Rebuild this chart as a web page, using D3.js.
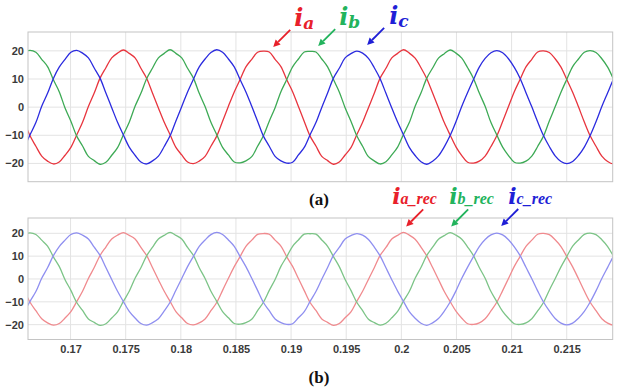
<!DOCTYPE html>
<html>
<head>
<meta charset="utf-8">
<script src="https://cdn.jsdelivr.net/npm/d3@7"></script>
<style>
  body { margin: 0; background: #fff; }
  .tick text { font-family: "Liberation Sans", Arial, sans-serif; font-weight: bold; font-size: 11px; fill: #3a3a3a; }
</style>
</head>
<body>
<div id="chart"></div>
<script>
// sample instants: one sample every 1/24 of a period (period ~0.0127 s)
const sampleStart = 0.165796;
const sampleStep = 0.00052917;

// phase currents; the reconstructed ones in (b) follow them
const ia = [-5.0,
  -10.2, -13.9, -17.4, -19.2, -20.2, -19.5, -17.1, -14.3, -9.9, -5.4, 0.2, 5.0, 10.3, 14.0, 17.5, 19.2,
  20.3, 19.1, 17.5, 13.8, 10.2, 4.9, -0.3, -5.4, -9.8, -14.3, -17.0, -19.5, -20.1, -19.2, -17.5, -13.9, -10.3, -5.0, 0.3, 5.4, 9.8, 14.3, 17.0, 19.5,
  19.9, 19.6, 17.0, 14.4, 9.7, 5.5, 0.2, -5.1, -10.3, -13.8, -17.5, -19.0, -20.3, -19.5, -17.0, -14.4, -9.8, -5.4, -0.2, 4.9, 10.3, 13.8, 17.5, 19.1,
  20.4, 19.2, 17.4, 14.0, 10.1, 5.0, -0.2, -5.5, -9.9, -14.1, -17.2, -19.6, -19.9, -19.2, -17.4, -14.0, -10.2, -5.1, 0.2, 5.5, 9.9, 14.3, 17.0, 19.6,
  20.0, 19.4, 17.2, 14.2, 9.8, 5.3, 0.1, -5.3, -10.2, -13.9, -17.4, -19.3, -20.2, -19.4];

const ib = [19.6,
  20.2, 19.5, 17.0, 14.4, 9.7, 5.5, -0.3, -5.0, -10.3, -13.8, -17.5, -19.0, -20.3, -19.6, -17.1, -14.4, -9.8, -5.4, 0.3, 4.9, 10.2, 13.9, 17.5, 19.1,
  20.4, 19.1, 17.5, 13.8, 10.3, 4.9, 0.2, -5.4, -9.8, -14.3, -17.0, -19.5, -19.8, -19.1, -17.6, -13.9, -10.2, -5.0, -0.2, 5.5, 9.8, 14.3, 17.1, 19.6,
  19.8, 19.6, 17.1, 14.3, 9.8, 5.4, -0.2, -5.0, -10.2, -13.9, -17.6, -19.1, -20.2, -19.4, -17.0, -14.2, -9.7, -5.5, 0.3, 5.0, 10.3, 13.9, 17.4, 19.0,
  20.3, 19.2, 17.4, 14.0, 10.2, 5.0, 0.3, -5.5, -9.9, -14.2, -17.2, -19.6, -19.9, -19.2, -17.4, -14.0, -10.3, -4.9, 0.1, 5.3, 9.9, 14.4, 17.1, 19.5,
  20.1, 19.4, 17.2, 14.2, 9.9, 5.3];

const ic = [-14.3,
  -9.8, -5.5, 0.3, 4.9, 10.2, 14.2, 17.0, 19.5,
  20.2, 19.2, 17.5, 13.9, 10.3, 5.0, -0.2, -5.4, -9.9, -14.2, -17.1, -19.5, -20.2, -19.1, -17.4, -14.0, -10.2, -4.9, 0.2, 5.4, 9.9, 14.3, 17.1, 19.4,
  20.4, 19.5, 17.1, 14.3, 9.8, 5.4, 0.3, -5.0, -10.3, -13.9, -17.5, -19.1, -19.9, -19.6, -17.0, -14.3, -9.8, -5.5, -0.1, 5.0, 10.3, 13.8, 17.5, 19.0,
  19.9, 19.2, 17.3, 14.0, 10.1, 4.9, -0.3, -5.3, -9.8, -14.3, -17.2, -19.4, -20.3, -19.2, -17.3, -14.1, -10.1, -5.2, 0.3, 5.2, 9.8, 14.2, 17.3, 19.3,
  20.1, 19.3, 17.2, 14.1, 10.2, 5.1, 0.1, -5.2, -10.1, -14.0, -17.3, -19.3, -20.1, -19.3, -17.2, -14.2, -10.1, -5.2, 0.2, 5.1, 10.0, 14.2];

const xTicks = [0.17, 0.175, 0.18, 0.185, 0.19, 0.195, 0.2, 0.205, 0.21, 0.215];
const yTicks = [-20, -10, 0, 10, 20];
const xDomain = [0.16614, 0.21917];
const yDomain = [-26.5, 26.7];

// label name, subscript, arrow tip (t, value)
const labelsA = [
  { main: 'i', sub: 'a', t: 0.18838, v: 21.4 },
  { main: 'i', sub: 'b', t: 0.19246, v: 21.7 },
  { main: 'i', sub: 'c', t: 0.19690, v: 22.1 }
];
const labelsB = [
  { main: 'i', sub: 'a_rec', t: 0.20044, v: 23.0 },
  { main: 'i', sub: 'b_rec', t: 0.20452, v: 23.0 },
  { main: 'i', sub: 'c_rec', t: 0.20906, v: 23.2 }
];

const W = 621, H = 389;
const svg = d3.select('#chart').append('svg').attr('width', W).attr('height', H);

const defs = svg.append('defs');

function panel(opts) {
  const { top, bottom, left, right, lineColors, labelColors, labels, showX, id, labelFont } = opts;
  const x = d3.scaleLinear().domain(xDomain).range([left, right]);
  const y = d3.scaleLinear().domain(yDomain).range([bottom, top]);

  defs.append('clipPath').attr('id', id).append('rect')
    .attr('x', left).attr('y', top).attr('width', right - left).attr('height', bottom - top);

  const g = svg.append('g');
  g.append('rect').attr('x', left).attr('y', top).attr('width', right - left).attr('height', bottom - top)
    .attr('fill', '#fff');

  // grid
  g.selectAll('.vg').data(xTicks).join('line')
    .attr('x1', d => x(d)).attr('x2', d => x(d)).attr('y1', top).attr('y2', bottom)
    .attr('stroke', '#e3e3e3').attr('stroke-width', 1);
  g.selectAll('.hg').data(yTicks).join('line')
    .attr('y1', d => y(d)).attr('y2', d => y(d)).attr('x1', left).attr('x2', right)
    .attr('stroke', '#e3e3e3').attr('stroke-width', 1);

  // waveforms
  const line = d3.line()
    .x((d, i) => x(sampleStart + i * sampleStep))
    .y(d => y(d))
    .curve(d3.curveCatmullRom);
  const lines = g.append('g').attr('clip-path', `url(#${id})`);
  [ia, ib, ic].forEach((s, k) => {
    lines.append('path').attr('d', line(s)).attr('fill', 'none')
      .attr('stroke', lineColors[k]).attr('stroke-width', 1.3).attr('stroke-linejoin', 'round');
  });

  // box
  g.append('rect').attr('x', left).attr('y', top).attr('width', right - left).attr('height', bottom - top)
    .attr('fill', 'none').attr('stroke', '#c4c4c4').attr('stroke-width', 1);

  // axes
  const yAxis = d3.axisLeft(y).tickValues(yTicks).tickSize(0).tickPadding(4);
  const ya = g.append('g').attr('transform', `translate(${left},0)`).call(yAxis);
  ya.select('.domain').remove();

  if (showX) {
    const xAxis = d3.axisBottom(x).tickValues(xTicks).tickSize(0).tickPadding(6)
      .tickFormat(d3.format('~g'));
    const xa = g.append('g').attr('transform', `translate(0,${bottom})`).call(xAxis);
    xa.select('.domain').remove();
  }

  // annotations
  labels.forEach((l, k) => {
    const tx = x(l.t), ty = y(l.v);
    const dx = 17, dy = -17;
    const len = Math.hypot(dx, dy), ux = dx / len, uy = dy / len;
    const head = 7, hw = 3.5;
    const bx = tx + ux * head, by = ty + uy * head;
    g.append('line').attr('x1', tx + dx).attr('y1', ty + dy).attr('x2', bx).attr('y2', by)
      .attr('stroke', labelColors[k]).attr('stroke-width', 1.8);
    g.append('path')
      .attr('d', `M${tx},${ty}L${bx - uy * hw},${by + ux * hw}L${bx + uy * hw},${by - ux * hw}Z`)
      .attr('fill', labelColors[k]);
    const t = g.append('text')
      .attr('x', tx + dx + labelFont.ox[k]).attr('y', ty + dy + labelFont.oy)
      .attr('font-weight', 'bold').attr('font-style', 'italic')
      .attr('fill', labelColors[k]);
    t.append('tspan').attr('font-family', '"DejaVu Serif", serif').attr('font-size', labelFont.main).text(l.main);
    t.append('tspan').attr('font-family', labelFont.subFamily)
      .attr('font-size', labelFont.sub).attr('dy', labelFont.subDy).text(l.sub);
  });

  return { x, y };
}

panel({
  id: 'clipA', top: 32, bottom: 181.7, left: 28, right: 612.7,
  lineColors: ['#e8353e', '#3daa55', '#2b2bdf'],
  labelColors: ['#e8202a', '#22b35c', '#1f1fd6'],
  labels: labelsA, showX: false,
  labelFont: { main: 24, sub: 17, subDy: 3, ox: [4, 4, 5], oy: -4, subFamily: '"DejaVu Serif", serif' }
});

panel({
  id: 'clipB', top: 218, bottom: 339.5, left: 28, right: 612.7,
  lineColors: ['#f08a8e', '#7cc487', '#8f8ff0'],
  labelColors: ['#e8202a', '#22b35c', '#1f1fd6'],
  labels: labelsB, showX: true,
  labelFont: { main: 22, sub: 16, subDy: 0, ox: [-31, -19, -10], oy: -5, subFamily: '"Liberation Serif", serif' }
});

svg.append('text').attr('x', 319).attr('y', 205).attr('text-anchor', 'middle')
  .attr('font-family', '"Liberation Serif", "Times New Roman", serif').attr('font-weight', 'bold')
  .attr('font-size', 17).attr('fill', '#111').text('(a)');
svg.append('text').attr('x', 319).attr('y', 383).attr('text-anchor', 'middle')
  .attr('font-family', '"Liberation Serif", "Times New Roman", serif').attr('font-weight', 'bold')
  .attr('font-size', 17).attr('fill', '#111').text('(b)');
</script>
</body>
</html>
